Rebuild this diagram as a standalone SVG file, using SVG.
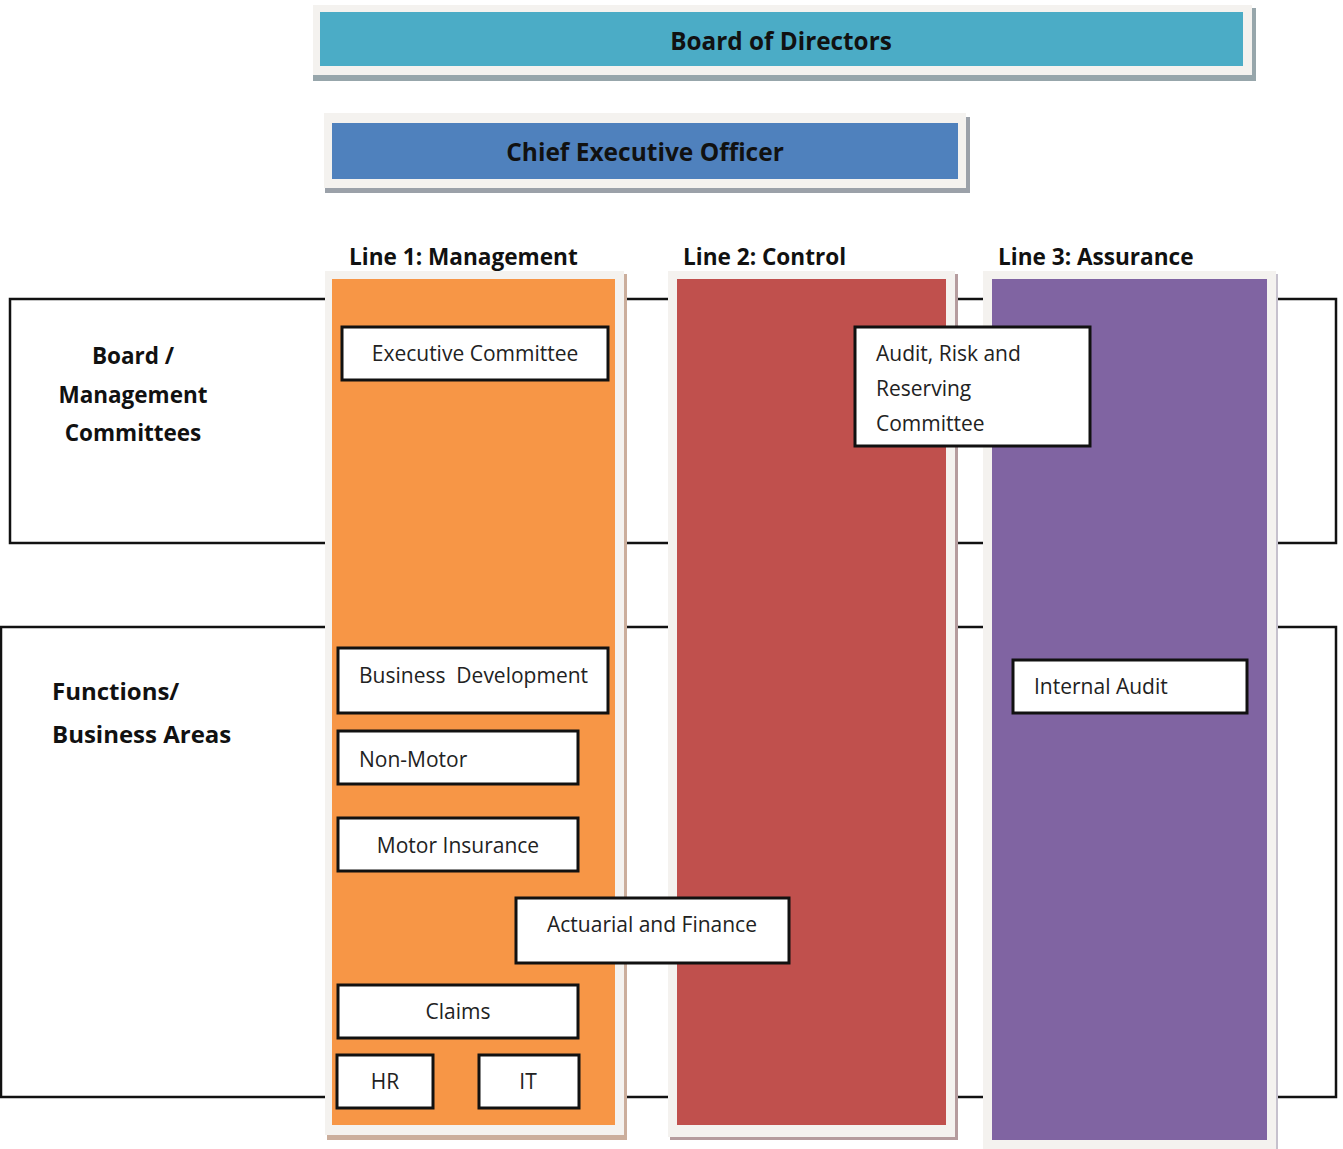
<svg xmlns="http://www.w3.org/2000/svg" width="1343" height="1149" viewBox="0 0 1343 1149">
<style>
  .frame { fill: #f4f2ef; }
  .box { fill: #ffffff; stroke: #111111; stroke-width: 3; }
  .ln { stroke: #111111; stroke-width: 2.5; fill: none; }
  .t { font-family: "Open Sans", "Noto Sans", sans-serif; font-size: 21px; fill: #222222; white-space: pre; }
  .b { font-family: "Open Sans", "Noto Sans", sans-serif; font-weight: bold; fill: #111111; }
  .h { font-size: 22.6px; }
  .c { text-anchor: middle; }
</style>
<rect width="1343" height="1149" fill="#ffffff"/>

<g id="connectors">
  <polyline class="ln" points="325,299 10,299 10,543 325,543"/>
  <line class="ln" x1="626" y1="299" x2="668" y2="299"/>
  <line class="ln" x1="626" y1="543" x2="668" y2="543"/>
  <line class="ln" x1="957" y1="299" x2="983" y2="299"/>
  <line class="ln" x1="957" y1="543" x2="983" y2="543"/>
  <polyline class="ln" points="1277,299 1336,299 1336,543 1277,543"/>
  <polyline class="ln" points="325,627 1,627 1,1097 325,1097"/>
  <line class="ln" x1="626" y1="627" x2="668" y2="627"/>
  <line class="ln" x1="626" y1="1097" x2="668" y2="1097"/>
  <line class="ln" x1="957" y1="627" x2="983" y2="627"/>
  <line class="ln" x1="957" y1="1097" x2="983" y2="1097"/>
  <polyline class="ln" points="1277,627 1336,627 1336,1097 1277,1097"/>
</g>

<g id="board">
  <rect x="313" y="8" width="943" height="73" fill="#97a6ab"/>
  <rect class="frame" x="313" y="5" width="939" height="70"/>
  <rect x="320" y="12" width="923" height="54" fill="#4bacc6"/>
  <text class="b c" x="781" y="50" font-size="24.3">Board of Directors</text>
</g>

<g id="ceo">
  <rect x="325" y="117" width="645" height="76" fill="#9ba1a9"/>
  <rect class="frame" x="324" y="113" width="642" height="75"/>
  <rect x="332" y="123" width="626" height="56" fill="#4f81bd"/>
  <text class="b c" x="645" y="161" font-size="24.5">Chief Executive Officer</text>
</g>

<g id="line1">
  <text class="b h" x="349" y="265">Line 1: Management</text>
  <rect x="327" y="274" width="300" height="866" fill="#cbae9c"/>
  <rect class="frame" x="325" y="271" width="299" height="864"/>
  <rect x="332" y="279" width="283" height="846" fill="#f79646"/>
</g>

<g id="line2">
  <text class="b h" x="683" y="265">Line 2: Control</text>
  <rect x="670" y="274" width="288" height="866" fill="#b59c9e"/>
  <rect class="frame" x="668" y="271" width="287" height="866"/>
  <rect x="677" y="279" width="269" height="846" fill="#c0504d"/>
</g>

<g id="line3">
  <text class="b h" x="998" y="265">Line 3: Assurance</text>
  <rect x="985" y="274" width="293" height="880" fill="#c6c1cd"/>
  <rect class="frame" x="983" y="271" width="293" height="880"/>
  <rect x="992" y="279" width="275" height="861" fill="#8064a2"/>
</g>

<g id="row-board-management">
  <text class="b c" x="133" y="364" font-size="22.5">Board /</text>
  <text class="b c" x="133" y="403" font-size="22.5">Management</text>
  <text class="b c" x="133" y="441" font-size="22.5">Committees</text>
</g>

<g id="row-functions">
  <text class="b" x="52" y="700" font-size="24">Functions/</text>
  <text class="b" x="52" y="743" font-size="24">Business Areas</text>
</g>

<g id="executive-committee">
  <rect class="box" x="342" y="327" width="266" height="53"/>
  <text class="t c" x="475" y="361">Executive Committee</text>
</g>

<g id="audit-risk-reserving">
  <rect class="box" x="855" y="327" width="235" height="119"/>
  <text class="t" x="876" y="361">Audit, Risk and</text>
  <text class="t" x="876" y="396">Reserving</text>
  <text class="t" x="876" y="431">Committee</text>
</g>

<g id="business-development">
  <rect class="box" x="338" y="648" width="270" height="65"/>
  <text class="t" x="359" y="683">Business  Development</text>
</g>

<g id="non-motor">
  <rect class="box" x="338" y="731" width="240" height="53"/>
  <text class="t" x="359" y="767">Non-Motor</text>
</g>

<g id="motor-insurance">
  <rect class="box" x="338" y="818" width="240" height="53"/>
  <text class="t c" x="458" y="853">Motor Insurance</text>
</g>

<g id="actuarial-finance">
  <rect class="box" x="516" y="898" width="273" height="65"/>
  <text class="t c" x="652" y="932">Actuarial and Finance</text>
</g>

<g id="claims">
  <rect class="box" x="338" y="985" width="240" height="53"/>
  <text class="t c" x="458" y="1019">Claims</text>
</g>

<g id="hr">
  <rect class="box" x="337" y="1055" width="96" height="53"/>
  <text class="t c" x="385" y="1089">HR</text>
</g>

<g id="it">
  <rect class="box" x="479" y="1055" width="100" height="53"/>
  <text class="t c" x="528" y="1089">IT</text>
</g>

<g id="internal-audit">
  <rect class="box" x="1013" y="660" width="234" height="53"/>
  <text class="t" x="1034" y="694">Internal Audit</text>
</g>
</svg>
